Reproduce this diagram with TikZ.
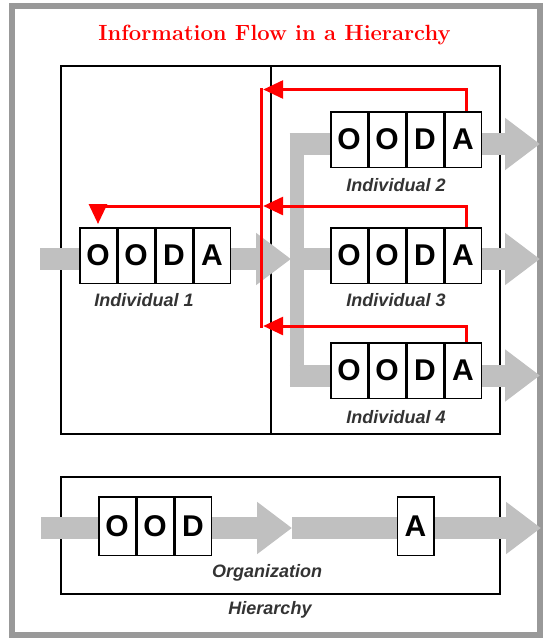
\documentclass[tikz,border=0pt]{standalone}
\usepackage{fontspec}
\newfontfamily\arialfont{Liberation Sans}
\usetikzlibrary{positioning,arrows.meta}
\definecolor{flowgray}{HTML}{C0C0C0}
\definecolor{framegray}{HTML}{999999}

\begin{document}
\begin{tikzpicture}[x=1pt, y=-1pt,
cell/.style = {draw, line width=1.5pt, fill=white, minimum width=36.5pt,
	minimum height=55.5pt, inner sep=0pt,
	font=\arialfont\bfseries\fontsize{30}{36}\selectfont},
orgcell/.style = {cell, minimum height=58.5pt},
group/.style = {draw, line width=2pt, inner sep=0pt},
tag/.style = {anchor=base, inner sep=0pt, text=black!80,
	font=\arialfont\bfseries\itshape\fontsize{18}{21}\selectfont},
title/.style = {anchor=base, inner sep=0pt, text=red,
	font=\bfseries\fontsize{22}{26}\selectfont},
flow/.style = {draw=flowgray, line width=22pt, -{Triangle[length=35pt,width=50pt]}},
trunk/.style = {draw=flowgray, line width=14pt},
bus/.style = {draw=red, line width=3pt},
feedback/.style = {bus, -{Triangle[length=20pt,width=18pt]}}]

\useasboundingbox (0,0) rectangle (543,640);
\draw[framegray, line width=6pt] (11.5,5.5) rectangle (540,634.5);

\node[title] (title) at (274.5,40.7) {Information Flow in a Hierarchy};

% the two groupings
\node[group, minimum width=439pt, minimum height=368pt] (team) at (280.85,250) {};
\coordinate (divx) at (271,0);
\draw[line width=2pt] (team.north -| divx) -- (team.south -| divx);
\node[group, minimum width=439pt, minimum height=117pt] (org) at (280.85,535.5) {};

% grey flow of the loops
\draw[flow] (40,259) -- (291,259);
\draw[trunk] (296.5,133) -- (296.5,387);
\foreach \y in {144,259,375.5}
	\draw[flow] (289.5,\y) -- (540,\y);
\draw[flow] (41,528) -- (292,528);
\draw[flow] (292,528) -- (541,528);

% individual 1
\node[cell] (i1o1) at (98,255.5) {O};
\node[cell, right=0pt of i1o1] (i1o2) {O};
\node[cell, right=0pt of i1o2] (i1d) {D};
\node[cell, right=0pt of i1d] (i1a) {A};
\node[tag] (ind1) at (144,306.7) {Individual 1};

% individual 2
\node[cell] (i2o1) at (349,139.5) {O};
\node[cell, right=0pt of i2o1] (i2o2) {O};
\node[cell, right=0pt of i2o2] (i2d) {D};
\node[cell, right=0pt of i2d] (i2a) {A};
\node[tag] (ind2) at (396,191) {Individual 2};

% individual 3
\node[cell] (i3o1) at (349,255.5) {O};
\node[cell, right=0pt of i3o1] (i3o2) {O};
\node[cell, right=0pt of i3o2] (i3d) {D};
\node[cell, right=0pt of i3d] (i3a) {A};
\node[tag] (ind3) at (396,306) {Individual 3};

% individual 4
\node[cell] (i4o1) at (349,370.5) {O};
\node[cell, right=0pt of i4o1] (i4o2) {O};
\node[cell, right=0pt of i4o2] (i4d) {D};
\node[cell, right=0pt of i4d] (i4a) {A};
\node[tag] (ind4) at (396,423) {Individual 4};

% organization
\node[orgcell] (go1) at (117,526) {O};
\node[orgcell, right=0pt of go1] (go2) {O};
\node[orgcell, right=0pt of go2] (gd) {D};
\node[orgcell] (ga) at (415.5,526) {A};
\node[tag] (orgname) at (267,577) {Organization};
\node[tag] (hier) at (270,614) {Hierarchy};

% reports going up
\coordinate (bustop) at (261.7,88);
\coordinate (busbot) at (261.7,327.5);
\coordinate (tap2) at (263.2,89.5);
\coordinate (tap3) at (263.2,206);
\coordinate (tap4) at (263.2,326);
\coordinate (split) at (261.7,206);
\begin{scope}[every path/.style=feedback]
\path ([xshift=3.5pt]i2a.north) |- (tap2);
\path ([xshift=3.5pt]i3a.north) |- (tap3);
\path ([xshift=3.5pt]i4a.north) |- (tap4);
\path (split) -| ([yshift=3pt]i1o1.north);
\end{scope}
\draw[bus] (bustop) -- (busbot);

\end{tikzpicture}
\end{document}
